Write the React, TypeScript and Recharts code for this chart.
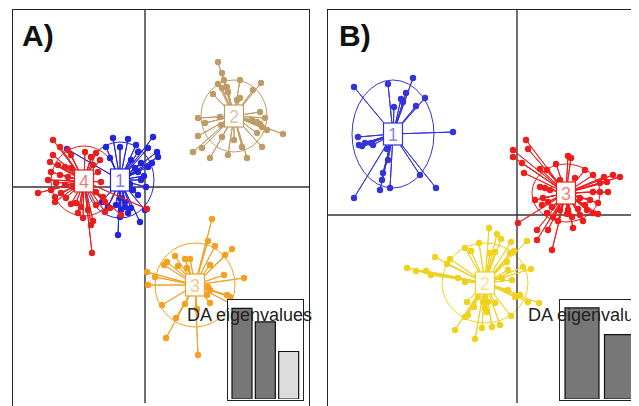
import React from 'react';
import {
  ScatterChart,
  Scatter,
  XAxis,
  YAxis,
  ReferenceLine,
  ReferenceArea,
  BarChart,
  Bar,
  Cell,
} from 'recharts';

type Pt = [number, number];

// ---- panel A: 4 clusters ----
const A_LABELS = ['1', '2', '3', '4'];
const A_COLORS = ['#2424dc', '#bf9c66', '#f4a020', '#e61e1e'];
const A_CENTERS: Pt[] = [[-2.5, 0.7], [8.9, 7.1], [5.0, -9.8], [-6.1, 0.6]];
const A_RADII: Pt[] = [[3.4, 3.8], [3.3, 3.6], [4.0, 4.2], [3.3, 3.5]];
const A_EIGEN = [91.5, 78, 48];

const a1: Pt[] = [
  [-3.2, 4.9], [-1.7, 4.8], [0.8, 5.0], [-3.9, 4.0], [-2.5, 4.0], [-0.9, 4.2], [-0.7, 3.5],
  [0.3, 3.9], [1.2, 3.5], [1.3, 3.0], [-7.8, 3.8], [-3.5, 2.9], [-1.4, 2.7], [-0.4, 2.4],
  [0.7, 2.4], [0.3, 2.0], [-0.7, 1.5], [-0.1, 1.1], [-0.4, 0.7], [0.1, 0.0], [-1.2, -0.3],
  [-0.7, -0.8], [-2.5, -1.1], [-2.0, -1.5], [-2.9, -1.8], [-3.7, -2.0], [-1.4, -2.1],
  [-2.4, -2.3], [0.0, -2.3], [-2.5, -3.0], [-1.7, -2.6], [-0.5, -3.5], [-2.7, -4.8],
  [-4.3, -1.5], [-2.0, -2.0], [-1.0, 1.9], [-1.5, 0.3],
];
const a2: Pt[] = [
  [7.3, 12.5], [7.7, 11.4], [7.9, 10.7], [7.3, 10.3], [8.2, 10.0], [7.7, 9.9], [8.3, 9.5],
  [9.5, 10.7], [11.6, 10.4], [10.8, 9.7], [6.8, 9.3], [9.5, 8.9], [9.2, 8.7], [5.3, 6.9],
  [6.0, 6.4], [7.5, 7.0], [7.6, 6.2], [11.5, 7.5], [12.0, 6.9], [10.7, 6.7], [11.2, 6.5],
  [12.2, 5.7], [13.8, 5.3], [5.3, 5.1], [7.7, 5.0], [8.9, 4.7], [11.2, 5.4], [11.7, 4.0],
  [4.8, 3.5], [6.5, 2.9], [8.3, 3.2], [9.7, 4.0], [10.2, 2.9], [5.7, 3.9], [11.5, 6.3],
  [11.7, 6.0],
];
const a3: Pt[] = [
  [6.7, -3.2], [6.3, -5.4], [7.0, -5.9], [8.0, -6.8], [8.7, -6.2], [3.0, -6.9], [4.0, -7.2],
  [4.5, -7.2], [2.2, -7.5], [1.9, -7.8], [3.3, -7.9], [6.5, -7.8], [4.2, -8.1], [0.2, -8.5],
  [1.0, -9.0], [7.9, -8.8], [9.9, -9.1], [0.3, -9.8], [6.3, -10.0], [8.2, -10.8],
  [8.5, -11.0], [5.2, -12.2], [1.7, -11.8], [6.5, -11.6], [3.1, -13.1], [2.1, -15.1],
  [5.3, -16.8], [6.2, -10.8], [4.0, -11.7], [9.2, -12.0], [6.5, -10.3],
];
const a4: Pt[] = [
  [-9.2, 4.7], [-8.5, 4.0], [-7.7, 3.7], [-7.4, 3.2], [-9.2, 3.2], [-9.5, 2.5], [-8.7, 2.2],
  [-8.0, 2.0], [-7.4, 1.9], [-9.4, 1.5], [-8.5, 1.2], [-7.7, 1.0], [-9.7, 0.7], [-8.9, 0.4],
  [-8.0, 0.2], [-7.2, 0.0], [-9.4, -0.3], [-10.7, -0.6], [-8.4, -0.6], [-9.0, -1.0],
  [-7.9, -1.1], [-6.9, -1.6], [-6.4, -2.0], [-5.7, -2.3], [-6.7, -2.6], [-6.2, -3.1],
  [-5.2, -3.4], [-5.4, -3.8], [-5.3, -6.6], [-6.0, 3.5], [-5.4, 3.0], [-4.9, 3.4],
  [-4.5, 2.7], [-5.2, 2.2], [-4.7, 1.5], [-4.4, 0.5], [-4.9, -0.5], [-4.2, -1.0],
  [-4.0, -1.5], [-4.9, -1.8], [-4.0, -2.5], [-3.5, -2.1], [0.2, -2.2], [-2.4, -2.8],
  [-9.0, -1.5], [-7.4, -1.7],
];
const A_POINTS = [a1, a2, a3, a4];

// ---- panel B: 3 clusters ----
const B_LABELS = ['1', '2', '3'];
const B_COLORS = ['#3434d8', '#f0d21c', '#f01c1c'];
const B_CENTERS: Pt[] = [[-12.4, 8.1], [-3.2, -6.8], [4.9, 2.2]];
const B_RADII: Pt[] = [[4.1, 5.4], [4.3, 4.0], [3.4, 2.9]];
const B_EIGEN = [92, 65];

const b1: Pt[] = [
  [-16.3, 12.8], [-12.9, 13.1], [-10.4, 13.7], [-11.1, 12.2], [-9.2, 11.7], [-11.4, 11.3],
  [-11.6, 11.6], [-10.1, 10.9], [-12.3, 10.8], [-6.4, 8.3], [-15.9, 7.8], [-15.8, 7.0],
  [-15.2, 7.2], [-14.6, 7.2], [-14.4, 7.0], [-13.0, 6.6], [-12.9, 5.5], [-13.4, 4.2],
  [-13.5, 3.5], [-13.7, 2.5], [-12.7, 2.7], [-9.7, 4.0], [-8.1, 2.7], [-16.3, 1.7],
  [-15.5, 6.9],
];
const b2: Pt[] = [
  [-2.8, -1.3], [-2.0, -1.9], [-1.6, -2.4], [-0.6, -2.7], [1.0, -2.6], [-3.8, -2.8],
  [-5.2, -3.3], [-4.6, -3.6], [-2.7, -3.8], [-2.2, -3.7], [-0.7, -3.8], [-0.3, -3.6],
  [-6.7, -4.4], [-7.0, -4.9], [-8.2, -4.2], [-1.0, -4.7], [-0.9, -5.5], [0.6, -5.2],
  [1.4, -5.4], [-11.0, -5.3], [-10.1, -5.6], [-9.1, -5.6], [-8.6, -6.0], [-5.9, -6.3],
  [-5.2, -6.7], [-1.5, -6.3], [-0.5, -6.5], [-0.9, -7.5], [-0.2, -8.2], [0.3, -8.0],
  [1.1, -8.7], [2.2, -8.8], [-5.0, -8.7], [-3.9, -8.2], [-3.4, -8.7], [-2.9, -8.7],
  [-4.3, -9.2], [-3.2, -9.3], [-3.0, -9.7], [-2.2, -8.8], [-5.2, -10.2], [-4.9, -10.0],
  [-3.5, -11.3], [-2.5, -11.2], [-6.2, -11.5], [-4.2, -12.4], [-0.6, -10.1], [-1.7, -11.0],
];
const b3: Pt[] = [
  [0.9, 7.5], [1.1, 6.6], [-0.4, 6.5], [-0.4, 5.8], [0.5, 5.2], [0.7, 4.2], [5.1, 5.9],
  [5.4, 5.7], [3.9, 5.1], [2.3, 4.6], [3.0, 4.5], [6.8, 4.5], [7.6, 4.0], [8.7, 3.8],
  [9.6, 4.0], [10.3, 3.8], [9.0, 3.3], [8.3, 3.2], [2.3, 2.8], [2.8, 2.7], [3.3, 2.5],
  [7.6, 2.3], [8.3, 2.3], [9.1, 2.3], [1.8, 1.5], [2.6, 1.7], [3.1, 1.3], [7.3, 1.5],
  [6.3, 1.7], [8.1, 1.2], [2.5, 1.0], [3.5, 0.8], [4.3, 0.5], [5.1, 0.5], [6.1, 0.6],
  [7.0, 0.5], [7.6, 0.2], [8.1, 0.1], [3.0, 0.2], [6.3, 0.0], [3.6, -0.2], [0.1, -0.8],
  [4.1, -0.6], [5.5, -0.2], [2.0, -1.5], [3.1, -1.5], [5.6, -1.3], [6.6, -0.6],
  [2.0, -2.5], [3.5, -3.5], [5.0, 0.1], [4.3, 3.5], [5.8, 3.7], [6.8, 1.0],
];
const B_POINTS = [b1, b2, b3];

const FONT = '"Liberation Sans", Arial, sans-serif';

// spokes: hub, point, hub, point ... so the scatter line draws a star
function star(center: Pt, pts: Pt[]) {
  const out: { x: number; y: number; hub: boolean }[] = [];
  pts.forEach((p) => {
    out.push({ x: center[0], y: center[1], hub: true });
    out.push({ x: p[0], y: p[1], hub: false });
  });
  out.push({ x: center[0], y: center[1], hub: true });
  return out;
}

function Panel(props: {
  left: number;
  width: number;
  height: number;
  xDom: [number, number];
  yDom: [number, number];
  labels: string[];
  colors: string[];
  centers: Pt[];
  radii: Pt[];
  points: Pt[][];
}) {
  const { left, width, height, xDom, yDom, labels, colors, centers, radii, points } = props;
  const hubs = centers.map((c, i) => ({ x: c[0], y: c[1], label: labels[i], color: colors[i] }));
  return (
    <div style={{ position: 'absolute', left, top: 9, width, height }}>
      <ScatterChart width={width} height={height} margin={{ top: 0, right: 0, bottom: 0, left: 0 }}>
        <XAxis type="number" dataKey="x" domain={xDom} hide allowDataOverflow />
        <YAxis type="number" dataKey="y" domain={yDom} hide allowDataOverflow />
        <ReferenceLine x={0} stroke="#333" strokeWidth={1.4} />
        <ReferenceLine y={0} stroke="#333" strokeWidth={1.4} />
        {centers.map((c, i) => (
          <ReferenceArea
            key={'e' + i}
            x1={c[0] - radii[i][0]}
            x2={c[0] + radii[i][0]}
            y1={c[1] - radii[i][1]}
            y2={c[1] + radii[i][1]}
            ifOverflow="visible"
            shape={(p: any) => (
              <ellipse
                cx={p.x + p.width / 2}
                cy={p.y + p.height / 2}
                rx={Math.abs(p.width) / 2}
                ry={Math.abs(p.height) / 2}
                fill="none"
                stroke={colors[i]}
                strokeWidth={1}
              />
            )}
          />
        ))}
        {points.map((pts, i) => (
          <Scatter
            key={'g' + i}
            data={star(centers[i], pts)}
            isAnimationActive={false}
            line={{ stroke: colors[i], strokeWidth: 1 }}
            lineType="joint"
            shape={(p: any) => {
              const hub = p.payload ? p.payload.hub : p.hub;
              if (hub) return <g />;
              return <circle cx={p.cx} cy={p.cy} r={3.2} fill={colors[i]} />;
            }}
          />
        ))}
        <Scatter
          data={hubs}
          isAnimationActive={false}
          shape={(p: any) => {
            const d = p.payload || p;
            return (
              <g>
                <rect x={p.cx - 9.5} y={p.cy - 11} width={19} height={22} fill="#fff" stroke={d.color} strokeWidth={1.2} />
                <text
                  x={p.cx}
                  y={p.cy + 6.5}
                  textAnchor="middle"
                  fontSize={18}
                  fontFamily={FONT}
                  fill={d.color}
                  fillOpacity={0.6}
                >
                  {d.label}
                </text>
              </g>
            );
          }}
        />
      </ScatterChart>
    </div>
  );
}

function Eigen(props: { left: number; width: number; values: number[]; barSize: number; textLeft: number }) {
  const { left, width, values, barSize, textLeft } = props;
  const data = values.map((v, i) => ({ k: 'ev' + (i + 1), v }));
  return (
    <>
      <div
        style={{
          position: 'absolute',
          left,
          top: 299,
          width,
          height: 102,
          border: '1.5px solid #222',
          background: '#fff',
          boxSizing: 'border-box',
        }}
      >
        <BarChart width={width - 3} height={99} data={data} margin={{ top: 0, right: 2, bottom: 0, left: 2 }}>
          <XAxis dataKey="k" hide />
          <YAxis domain={[0, 100]} hide />
          <Bar dataKey="v" barSize={barSize} stroke="#111" strokeWidth={1.2} isAnimationActive={false}>
            {data.map((d, i) => (
              <Cell key={d.k} fill={i < 2 ? '#777' : '#ddd'} />
            ))}
          </Bar>
        </BarChart>
      </div>
      <div
        style={{
          position: 'absolute',
          left: textLeft,
          top: 306,
          fontFamily: FONT,
          fontSize: 18,
          lineHeight: '18px',
          color: '#222',
          whiteSpace: 'nowrap',
        }}
      >
        DA eigenvalues
      </div>
    </>
  );
}

const frame = (left: number, width: number): React.CSSProperties => ({
  position: 'absolute',
  left,
  top: 9,
  width,
  height: 420,
  borderTop: '1.5px solid #222',
  borderLeft: '1.5px solid #222',
  borderRight: '1.5px solid #222',
  boxSizing: 'border-box',
});

const tag: React.CSSProperties = {
  position: 'absolute',
  top: 21,
  fontFamily: FONT,
  fontWeight: 'bold',
  fontSize: 30,
  lineHeight: '30px',
  color: '#111',
};

export default function App() {
  return (
    <div
      style={{
        position: 'relative',
        width: 639,
        height: 406,
        marginLeft: -8,
        marginTop: -8,
        overflow: 'hidden',
        background: '#fff',
      }}
    >
      <div style={frame(12, 298)} />
      <div style={frame(327, 340)} />
      <Panel
        left={12}
        width={297}
        height={394}
        xDom={[-13.3, 16.4]}
        yDom={[-21.6, 17.8]}
        labels={A_LABELS}
        colors={A_COLORS}
        centers={A_CENTERS}
        radii={A_RADII}
        points={A_POINTS}
      />
      <Panel
        left={327}
        width={330}
        height={394}
        xDom={[-19, 14]}
        yDom={[-18.8, 20.6]}
        labels={B_LABELS}
        colors={B_COLORS}
        centers={B_CENTERS}
        radii={B_RADII}
        points={B_POINTS}
      />
      <Eigen left={227} width={77} values={A_EIGEN} barSize={20} textLeft={187} />
      <Eigen left={559} width={86} values={B_EIGEN} barSize={34} textLeft={528} />
      <div style={{ ...tag, left: 22 }}>A)</div>
      <div style={{ ...tag, left: 339 }}>B)</div>
    </div>
  );
}
